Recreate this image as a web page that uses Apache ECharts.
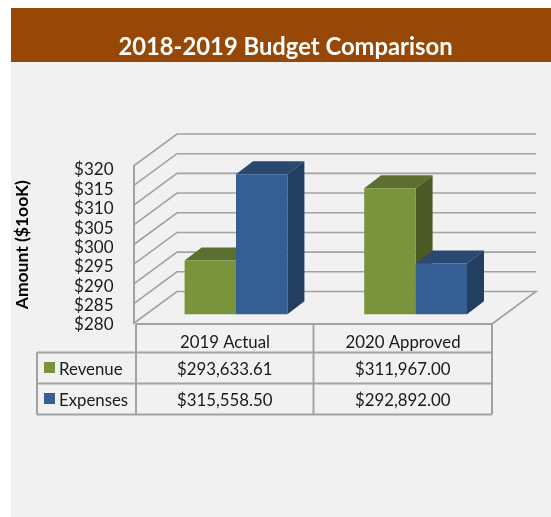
<!DOCTYPE html>
<html>
<head>
<meta charset="utf-8">
<style>html,body{margin:0;padding:0;background:#fff}#c{width:551px;height:517px}</style>
<script src="https://cdn.jsdelivr.net/npm/echarts@6/dist/echarts.min.js"></script>
</head>
<body>
<div id="c"></div>
<script>
const titleText = '2018-2019 Budget Comparison';
const yAxisTitle = 'Amount ($1ooK)';
const categories = ['2019 Actual', '2020 Approved'];
const revenue = [293633.61, 311967.00];
const expenses = [315558.50, 292892.00];
const yTicks = [280, 285, 290, 295, 300, 305, 310, 315, 320];

const FONT = 'Lato';
const LINE = '#a2a2a2';
const GREEN = { front: '#7a943c', top: '#5d6f2e', side: '#4c5b25' };
const BLUE = { front: '#355f92', top: '#2b4870', side: '#223e60' };
const BAR_W = 51.4, DX = 17, DY = 13;

const chart = echarts.init(document.getElementById('c'), null, { renderer: 'canvas' });
const money = v => '$' + v.toLocaleString('en-US', { minimumFractionDigits: 2, maximumFractionDigits: 2 });
const thousands = a => a.map(v => v / 1000);

function extrusion(colors, offset) {
  return function (params, api) {
    const p = api.coord([api.value(0), api.value(1)]);
    const base = api.coord([api.value(0), 280]);
    const l = p[0] + offset, r = l + BAR_W, t = p[1], b = base[1];
    return {
      type: 'group',
      children: [
        { type: 'polygon', shape: { points: [[l, t], [l + DX, t - DY], [r + DX, t - DY], [r, t]] }, style: { fill: colors.top } },
        { type: 'polygon', shape: { points: [[r, t], [r + DX, t - DY], [r + DX, b - DY], [r, b]] }, style: { fill: colors.side } }
      ]
    };
  };
}

function wallLines(params, api) {
  const cs = params.coordSys;
  const y = api.coord([0, api.value(0)])[1];
  const x0 = cs.x - 2.5, x1 = x0 + 43.5, x2 = cs.x + 400, by = y - 32;
  const pts = [[x0, y], [x1, by], [x2, by]];
  if (api.value(0) === yTicks[0]) pts.push([cs.x + cs.width, y + 0.5]);
  return { type: 'polyline', shape: { points: pts }, style: { fill: 'none', stroke: LINE, lineWidth: 1.6 } };
}

function tableGraphics() {
  const L = 37, X0 = 136, X1 = 313.5, X2 = 492;
  const Y0 = 324, Y1 = 352.5, Y2 = 383.5, Y3 = 414.5;
  const seg = (x1, y1, x2, y2) => ({ type: 'line', z: 20, shape: { x1, y1, x2, y2 }, style: { stroke: LINE, lineWidth: 2 } });
  const text = (t, x, y, align) => ({
    type: 'text', z: 21, x, y,
    style: { text: t, fill: '#1a1a1a', font: '16.8px ' + FONT, textAlign: align, textVerticalAlign: 'middle' }
  });
  const out = [
    { type: 'rect', z: -10, shape: { x: 11, y: 8, width: 540, height: 509 }, style: { fill: '#f1f1f1' } },
    { type: 'rect', z: -9, shape: { x: 11, y: 8, width: 540, height: 54 }, style: { fill: '#974806' } },
    { type: 'text', z: 21, x: 285.5, y: 47, style: { text: titleText, fill: '#fff', font: 'bold 23.8px ' + FONT, textAlign: 'center', textVerticalAlign: 'middle' } },
    seg(X0, Y0, X2, Y0), seg(L, Y1, X2, Y1), seg(L, Y2, X2, Y2), seg(L, Y3, X2, Y3),
    seg(L, Y1, L, Y3), seg(X0, Y0, X0, Y3), seg(X1, Y0, X1, Y3), seg(X2, Y0, X2, Y3),
    { type: 'rect', z: 21, shape: { x: 44, y: 362, width: 11, height: 11 }, style: { fill: GREEN.front } },
    { type: 'rect', z: 21, shape: { x: 44, y: 393, width: 11, height: 11 }, style: { fill: BLUE.front } },
    text('Revenue', 59, 370, 'left'), text('Expenses', 59, 401, 'left')
  ];
  categories.forEach((c, i) => {
    const cx = (i === 0 ? X0 + X1 : X1 + X2) / 2;
    out.push(text(money(revenue[i]), cx, 370, 'center'));
    out.push(text(money(expenses[i]), cx, 401, 'center'));
  });
  return out;
}

chart.setOption({
  animation: false,
  backgroundColor: '#fff',
  graphic: { elements: tableGraphics() },
  grid: [
    { left: 136, top: 166, width: 356, height: 157.5 },
    { left: 146.2, top: 156.7, width: 359.2, height: 157.6 },
    { left: 136, top: 170, width: 356, height: 155 }
  ],
  xAxis: [
    { type: 'category', gridIndex: 0, data: categories, axisLine: { show: false }, axisTick: { show: false }, splitLine: { show: false },
      axisLabel: { color: '#1a1a1a', fontFamily: FONT, fontSize: 16.8, margin: 11 } },
    { type: 'category', gridIndex: 1, data: categories, show: false },
    { type: 'category', gridIndex: 2, data: categories, show: false }
  ],
  yAxis: [
    { type: 'value', gridIndex: 0, min: 280, max: 320, interval: 5, offset: 2.5,
      axisLine: { show: true, lineStyle: { color: LINE, width: 2 } }, axisTick: { show: false }, splitLine: { show: false },
      axisLabel: { show: false },
      name: yAxisTitle, nameLocation: 'middle', nameRotate: 90, nameGap: 102,
      nameTextStyle: { color: '#000', fontFamily: FONT, fontWeight: 'bold', fontSize: 17.5 } },
    { type: 'value', gridIndex: 1, min: 280, max: 320, interval: 5, show: false },
    { type: 'value', gridIndex: 2, min: 280, max: 320, interval: 5, offset: 2.5,
      axisLine: { show: false }, axisTick: { show: false }, splitLine: { show: false },
      axisLabel: { color: '#1a1a1a', fontFamily: FONT, fontSize: 17, margin: 20, formatter: v => '$' + v } }
  ],
  series: [
    { type: 'custom', name: 'Gridlines', xAxisIndex: 0, yAxisIndex: 0, z: 1, silent: true,
      data: yTicks.map(v => [v]), encode: { y: 0 }, renderItem: wallLines },
    { type: 'custom', name: 'Revenue depth', xAxisIndex: 1, yAxisIndex: 1, z: 2, silent: true,
      data: thousands(revenue).map((v, i) => [i, v]), renderItem: extrusion(GREEN, -BAR_W) },
    { type: 'bar', name: 'Revenue', xAxisIndex: 1, yAxisIndex: 1, z: 3, barWidth: BAR_W, barGap: 0,
      data: thousands(revenue), itemStyle: { color: GREEN.front } },
    { type: 'custom', name: 'Expenses depth', xAxisIndex: 1, yAxisIndex: 1, z: 4, silent: true,
      data: thousands(expenses).map((v, i) => [i, v]), renderItem: extrusion(BLUE, 0) },
    { type: 'bar', name: 'Expenses', xAxisIndex: 1, yAxisIndex: 1, z: 5, barWidth: BAR_W, barGap: 0,
      data: thousands(expenses), itemStyle: { color: BLUE.front } }
  ]
});
</script>
</body>
</html>
